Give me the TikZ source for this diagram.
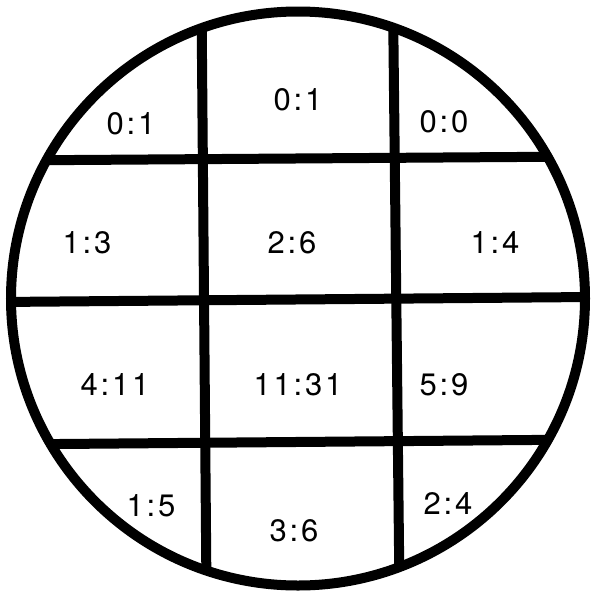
\documentclass[tikz,border=0pt]{standalone}
\usepackage{fontspec}
\setmainfont{TeX Gyre Heros}[LetterSpace=9]
\begin{document}
\begin{tikzpicture}[x=1pt,y=-1pt,
  gridline/.style={line width=10pt,line cap=butt},
  lab/.style={font=\fontsize{31}{31}\selectfont,inner sep=0pt}]
\useasboundingbox (0,0) rectangle (590,592);
\coordinate (c) at (298,298.5);
\begin{scope}
\clip (c) circle (287);
\draw[gridline] (201.5,0) coordinate (v1t) -- (206.5,592) coordinate (v1b);
\draw[gridline] (393,0) coordinate (v2t) -- (399.5,592) coordinate (v2b);
\draw[gridline] (0,160.5) coordinate (h1l) -- (590,156.5) coordinate (h1r);
\draw[gridline] (0,302) coordinate (h2l) -- (590,297) coordinate (h2r);
\draw[gridline] (0,444.5) coordinate (h3l) -- (590,439.5) coordinate (h3r);
\end{scope}
\draw[line width=10pt] (c) circle (287);
\node[lab] (a1) at (131,124) {0:1};
\node[lab] (a2) at (298,100) {0:1};
\node[lab] (a3) at (444,122) {0:0};
\node[lab] (b1) at (87,243) {1:3};
\node[lab] (b2) at (292,243) {2:6};
\node[lab] (b3) at (495,243) {1:4};
\node[lab] (c1) at (115,385) {4:11};
\node[lab] (c2) at (298,385) {11:31};
\node[lab] (c3) at (444,385) {5:9};
\node[lab] (d1) at (151,506) {1:5};
\node[lab] (d2) at (294,531) {3:6};
\node[lab] (d3) at (448,504) {2:4};
\end{tikzpicture}
\end{document}
